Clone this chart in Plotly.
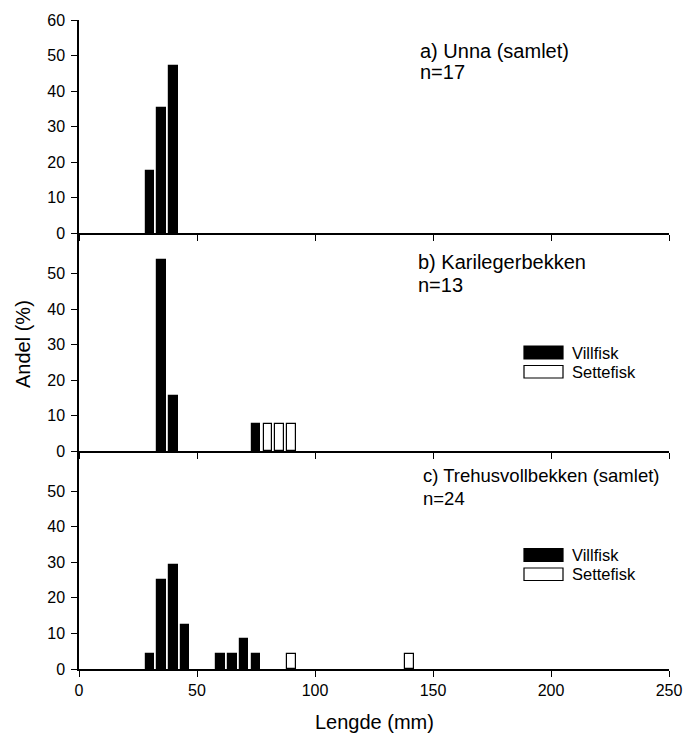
import plotly.graph_objects as go

# ---- data (length class in mm, share in %) ----
a_wild_len = [30, 35, 40]
a_wild_pct = [17.6, 35.3, 47.1]

b_wild_len = [35, 40, 75]
b_wild_pct = [53.8, 15.4, 7.7]
b_stock_len = [80, 85, 90]
b_stock_pct = [7.7, 7.7, 7.7]

c_wild_len = [30, 35, 40, 45, 60, 65, 70, 75]
c_wild_pct = [4.2, 25.0, 29.2, 12.5, 4.2, 4.2, 8.3, 4.2]
c_stock_len = [90, 140]
c_stock_pct = [4.2, 4.2]

panel_titles = ["a) Unna (samlet)", "b) Karilegerbekken", "c) Trehusvollbekken (samlet)"]
panel_n = ["n=17", "n=13", "n=24"]
legend_labels = ["Villfisk", "Settefisk"]
x_ticks = [0, 50, 100, 150, 200, 250]

FONT = "Liberation Sans, Arial, sans-serif"
W, H = 686, 738
L, R, T, B = 79, 669, 20, 669  # plot area in px


def px_x(px):
    return (px - L) / (R - L)


def px_y(py):
    return (B - py) / (B - T)


BW = 3.5
fig = go.Figure()


def add_bars(xs, ys, axis, filled):
    fig.add_trace(go.Bar(
        x=xs, y=ys, width=[BW] * len(xs),
        marker=dict(color="black" if filled else "white",
                    line=dict(color="black", width=1.2)),
        xaxis="x" + axis, yaxis="y" + axis, showlegend=False,
        hoverinfo="x+y",
    ))


add_bars(a_wild_len, a_wild_pct, "", True)
add_bars(b_wild_len, b_wild_pct, "2", True)
add_bars(b_stock_len, b_stock_pct, "2", False)
add_bars(c_wild_len, c_wild_pct, "3", True)
add_bars(c_stock_len, c_stock_pct, "3", False)

# panel pixel bounds (top, bottom)
panels = [(20, 233), (233, 451), (451, 669)]
yranges = [[0, 60], [0, 61.5], [0, 61.3]]
ytickvals = [[0, 10, 20, 30, 40, 50, 60], [0, 10, 20, 30, 40, 50], [0, 10, 20, 30, 40, 50]]

axis_common = dict(showline=True, linecolor="black", linewidth=1.5,
                   ticks="outside", ticklen=6, tickwidth=1.2, tickcolor="black",
                   showgrid=False, zeroline=False, automargin=False,
                   tickfont=dict(family=FONT, size=16, color="black"))

layout = dict(width=W, height=H,
              margin=dict(l=L, r=W - R, t=T, b=H - B, autoexpand=False),
              plot_bgcolor="white", paper_bgcolor="white", bargap=0,
              barmode="overlay", showlegend=False,
              font=dict(family=FONT, color="black"))

for i, (top, bot) in enumerate(panels):
    suf = "" if i == 0 else str(i + 1)
    dom = [px_y(bot), px_y(top)]
    layout["xaxis" + suf] = dict(axis_common, domain=[0, 1], range=[0, 250],
                                 tickvals=x_ticks, showticklabels=(i == 2),
                                 anchor="y" + suf)
    layout["yaxis" + suf] = dict(axis_common, domain=dom, range=yranges[i],
                                 tickvals=ytickvals[i], anchor="x" + suf,
                                 ticklabelstandoff=3)

fig.update_layout(**layout)

ann = []
title_pos = [(418, 51, 72, 20), (416, 261.5, 285, 20), (421, 475.5, 498, 18.5)]
for (xp, y1, y2, fs), t, n in zip(title_pos, panel_titles, panel_n):
    for txt, yy in ((t, y1), (n, y2)):
        ann.append(dict(text=txt, x=px_x(xp), y=px_y(yy), xref="paper", yref="paper",
                        xanchor="left", yanchor="middle", showarrow=False,
                        font=dict(family=FONT, size=fs, color="black")))

# legends in panels b and c
shapes = []
for top in (346, 548.5):
    boxes = [(top, top + 13, "black"), (top + 19.5, top + 32, "white")]
    for (y0, y1, col), lab in zip(boxes, legend_labels):
        shapes.append(dict(type="rect", xref="paper", yref="paper",
                           x0=px_x(524), x1=px_x(563), y0=px_y(y1), y1=px_y(y0),
                           fillcolor=col, line=dict(color="black", width=1.2)))
        ann.append(dict(text=lab, x=px_x(570), y=px_y((y0 + y1) / 2), xref="paper",
                        yref="paper", xanchor="left", yanchor="middle", showarrow=False,
                        font=dict(family=FONT, size=16.5, color="black")))

ann.append(dict(text="Andel (%)", x=px_x(22.5), y=px_y(344.5), xref="paper", yref="paper",
                textangle=-90, showarrow=False, xanchor="center", yanchor="middle",
                font=dict(family=FONT, size=20, color="black")))
ann.append(dict(text="Lengde (mm)", x=px_x(374), y=px_y(722), xref="paper", yref="paper",
                showarrow=False, xanchor="center", yanchor="middle",
                font=dict(family=FONT, size=20, color="black")))

fig.update_layout(annotations=ann, shapes=shapes)
fig.write_html("out.html")
